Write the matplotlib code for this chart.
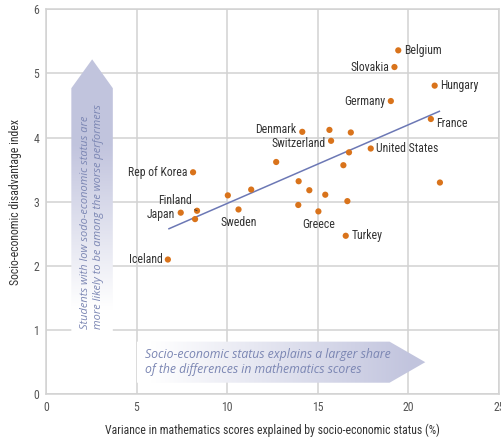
import numpy as np
import matplotlib
matplotlib.use("Agg")
import matplotlib.pyplot as plt
from matplotlib.patches import Polygon

# variance explained (%) vs socio-economic disadvantage index
labels = ["Belgium", "Slovakia", "Hungary", "Germany", "France", "Denmark", "", "",
          "Switzerland", "United States", "", "", "", "Rep of Korea", "", "", "", "",
          "", "", "", "", "Greece", "Sweden", "Finland", "Japan", "", "Turkey", "Iceland"]
x_vals = [19.45, 19.24, 21.46, 19.04, 21.25, 14.15, 15.65, 16.83,
          15.74, 17.93, 16.73, 16.42, 12.71, 8.12, 21.75, 13.95, 14.54, 15.42,
          11.33, 10.04, 16.64, 13.93, 15.04, 10.63, 8.34, 7.44, 8.23, 16.55, 6.73]
y_vals = [5.36, 5.10, 4.81, 4.57, 4.29, 4.09, 4.12, 4.08,
          3.95, 3.83, 3.77, 3.57, 3.62, 3.46, 3.30, 3.32, 3.18, 3.11,
          3.19, 3.10, 3.01, 2.95, 2.85, 2.88, 2.86, 2.83, 2.73, 2.47, 2.10]

trend_x = [6.79, 21.72]
trend_y = [2.58, 4.41]

x_ticks = [0, 5, 10, 15, 20, 25]
y_ticks = [0, 1, 2, 3, 4, 5, 6]

plt.rcParams['font.family'] = ['Roboto Condensed', 'DejaVu Sans']

fig = plt.figure(figsize=(5.02, 4.42), dpi=100)
ax = fig.add_axes([0.0916, 0.108, 0.902, 0.871])
ax.set_xlim(0, 25)
ax.set_ylim(0, 6)

grid_c = '#d2d2d2'
for xt in x_ticks:
    ax.axvline(xt, color=grid_c, lw=1.1, zorder=0)
for yt in y_ticks:
    ax.axhline(yt, color=grid_c, lw=1.1, zorder=0)
for s in ax.spines.values():
    s.set_color(grid_c)
    s.set_linewidth(1.1)

ax.set_xticks(x_ticks)
ax.set_yticks(y_ticks)
ax.tick_params(length=0, labelsize=8.5, colors='#555555', pad=5)
ax.set_xlabel("Variance in mathematics scores explained by socio-economic status (%)",
              fontsize=8.5, color='#333333', labelpad=7)
ax.set_ylabel("Socio-economic disadvantage index", fontsize=8.5, color='#333333', labelpad=8)

lav = np.array([0.76, 0.77, 0.87])
white = np.array([1.0, 1.0, 1.0])

# vertical gradient arrow
vpoly = Polygon([(1.40, 0.98), (3.69, 0.98), (3.69, 4.77), (2.55, 5.22), (1.40, 4.77)],
                closed=True, facecolor='none', edgecolor='none', zorder=1)
ax.add_patch(vpoly)
t = np.linspace(0, 1, 200)[:, None]
w = np.clip((t - 0.08) / 0.6, 0, 1)
grad_v = (white * (1 - w[..., None]) + lav * w[..., None]) * np.ones((200, 2, 3))
im = ax.imshow(grad_v, extent=[1.40, 3.69, 0.98, 5.22], origin='lower', aspect='auto', zorder=1)
im.set_clip_path(vpoly)

# horizontal gradient arrow
hpoly = Polygon([(5.0, 0.18), (18.97, 0.18), (20.94, 0.5), (18.97, 0.82), (5.0, 0.82)],
                closed=True, facecolor='none', edgecolor='none', zorder=1)
ax.add_patch(hpoly)
s_ = np.linspace(0, 1, 300)[None, :]
w2 = np.clip((s_ - 0.05) / 0.9, 0, 1)
grad_h = (white * (1 - w2[..., None]) + lav * w2[..., None]) * np.ones((2, 300, 3))
im2 = ax.imshow(grad_h, extent=[5.0, 20.94, 0.18, 0.82], origin='lower', aspect='auto', zorder=1)
im2.set_clip_path(hpoly)
ax.set_xlim(0, 25)
ax.set_ylim(0, 6)

note_c = '#7b86b3'
ax.text(5.45, 0.5, "Socio-economic status explains a larger share\nof the differences in mathematics scores",
        family=['Open Sans', 'DejaVu Sans'], style='italic', fontsize=8.8, color=note_c,
        ha='left', va='center', linespacing=1.2, zorder=2)
ax.text(2.55, 1.02, "Students with low sodo-economic status are\nmore likely to be among the worse performers",
        family=['Open Sans', 'DejaVu Sans'], style='italic', fontsize=7.95, color=note_c,
        ha='center', va='bottom', rotation=90, linespacing=1.3, zorder=2,
        multialignment='left')

ax.plot(trend_x, trend_y, color='#6c78b5', lw=1.1, zorder=3)
ax.scatter(x_vals, y_vals, s=20, color='#d9731b', edgecolors='none', zorder=4)

right_side = {"Belgium", "Hungary", "France", "United States", "Turkey"}
below = {"Greece", "Sweden"}
nudge = {"France": -3, "Denmark": 2, "Switzerland": -2, "Japan": -1}
for lab, xv, yv in zip(labels, x_vals, y_vals):
    if not lab or lab == "Finland":
        continue
    if lab in right_side:
        dx, ha, va = 4, 'left', 'center'
    elif lab in below:
        dx, ha, va = 0, 'center', 'top'
    else:
        dx, ha, va = -4, 'right', 'center'
    dy = -5 if lab in below else nudge.get(lab, 0)
    ax.annotate(lab, (xv, yv), xytext=(dx, dy), textcoords='offset points',
                ha=ha, va=va, fontsize=8.5, color='#333333', zorder=5)

ax.annotate("Finland", (8.34, 2.86), xytext=(7.12, 3.02), textcoords='data',
            ha='center', va='center', fontsize=8.5, color='#333333', zorder=5,
            arrowprops=dict(arrowstyle='-', color='#333333', lw=0.6, shrinkA=4, shrinkB=2))

fig.savefig("out.png", dpi=100)
